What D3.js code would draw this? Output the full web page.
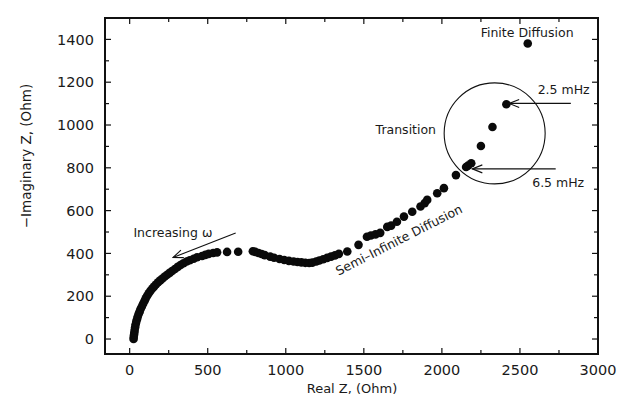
<!DOCTYPE html>
<html>
<head>
<meta charset="utf-8">
<script src="https://cdn.jsdelivr.net/npm/d3@7"></script>
<style>
  body { margin: 0; background: #fff; }
  svg text { font-family: "DejaVu Sans", sans-serif; fill: #1a1a1a; }
</style>
</head>
<body>
<svg id="chart" width="622" height="403"></svg>
<script>
// impedance data (Ohm)
var realZ = [25, 26, 28, 30, 32, 35, 38, 42, 47, 52, 58, 64, 70, 78, 86, 95, 103, 112, 122, 133,
  145, 156, 168, 182, 196, 210, 225, 240, 256, 272, 290, 308, 326, 345, 365, 385, 410, 432,
  464, 485, 506, 535, 560, 624, 695,
  789, 805, 825, 845, 865, 900, 925, 960, 990, 1020, 1050, 1075, 1100, 1125, 1150, 1170, 1195,
  1215, 1240, 1265, 1290, 1315, 1340, 1394, 1466, 1520, 1545, 1575, 1605, 1650, 1675, 1712,
  1757, 1810, 1863, 1890, 1906, 1970, 2013, 2090, 2155, 2167, 2188, 2250, 2324, 2413, 2550];
var imagZ = [0, 10, 20, 30, 42, 55, 68, 80, 92, 105, 118, 128, 140, 152, 165, 178, 190, 202, 214, 225,
  236, 245, 255, 265, 274, 283, 292, 300, 309, 318, 327, 337, 346, 354, 362, 368, 375, 382,
  388, 393, 398, 402, 405, 407, 408,
  410, 407, 402, 397, 392, 385, 380, 374, 369, 365, 362, 360, 358, 356, 355, 357, 362,
  367, 373, 379, 385, 391, 398, 409, 440, 478, 484, 489, 496, 524, 530, 548,
  572, 595, 619, 635, 650, 681, 705, 766, 804, 810, 821, 902, 991, 1097, 1381];

var xTicks = [0, 500, 1000, 1500, 2000, 2500, 3000];
var xMinor = [250, 750, 1250, 1750, 2250, 2750];
var yTicks = [0, 200, 400, 600, 800, 1000, 1200, 1400];
var yMinor = [100, 300, 500, 700, 900, 1100, 1300];

var xTitle = "Real Z, (Ohm)";
var yTitle = "\u2212Imaginary Z, (Ohm)";

var svg = d3.select("#chart");
var pLeft = 105, pRight = 598, pTop = 18, pBottom = 354;

const x = d3.scaleLinear().domain([-158, 3000]).range([pLeft, pRight]);
const y = d3.scaleLinear().domain([-70, 1500]).range([pBottom, pTop]);

// ticks on all four sides, pointing inward
function tickLines(vals, len, axis) {
  vals.forEach(function(v) {
    if (axis === "x") {
      svg.append("line").attr("x1", x(v)).attr("x2", x(v)).attr("y1", pBottom).attr("y2", pBottom - len)
        .attr("stroke", "#111").attr("stroke-width", 1.2);
      svg.append("line").attr("x1", x(v)).attr("x2", x(v)).attr("y1", pTop).attr("y2", pTop + len)
        .attr("stroke", "#111").attr("stroke-width", 1.2);
    } else {
      svg.append("line").attr("y1", y(v)).attr("y2", y(v)).attr("x1", pLeft).attr("x2", pLeft + len)
        .attr("stroke", "#111").attr("stroke-width", 1.2);
      svg.append("line").attr("y1", y(v)).attr("y2", y(v)).attr("x1", pRight).attr("x2", pRight - len)
        .attr("stroke", "#111").attr("stroke-width", 1.2);
    }
  });
}
tickLines(xTicks, 6, "x");
tickLines(xMinor, 4, "x");
tickLines(yTicks, 6, "y");
tickLines(yMinor, 4, "y");

// frame
svg.append("rect").attr("x", pLeft).attr("y", pTop).attr("width", pRight - pLeft).attr("height", pBottom - pTop)
  .attr("fill", "none").attr("stroke", "#111").attr("stroke-width", 2);

svg.selectAll(".xlab").data(xTicks).join("text").attr("class", "xlab")
  .attr("x", function(d) { return x(d); }).attr("y", 375)
  .attr("text-anchor", "middle").attr("font-size", 14.5).text(function(d) { return d; });

svg.selectAll(".ylab").data(yTicks).join("text").attr("class", "ylab")
  .attr("x", 94).attr("y", function(d) { return y(d); }).attr("dy", "0.36em")
  .attr("text-anchor", "end").attr("font-size", 14.5).text(function(d) { return d; });

svg.append("text").attr("x", 352).attr("y", 393).attr("text-anchor", "middle")
  .attr("font-size", 13).text(xTitle);
svg.append("text").attr("transform", "translate(31,156) rotate(-90)").attr("text-anchor", "middle")
  .attr("font-size", 13.5).text(yTitle);

// markers
var defs = svg.append("defs");
defs.append("marker").attr("id", "vhead").attr("viewBox", "0 -6 12 12")
  .attr("refX", 11).attr("refY", 0).attr("markerWidth", 12).attr("markerHeight", 12)
  .attr("markerUnits", "userSpaceOnUse").attr("orient", "auto")
  .append("path").attr("d", "M1,-4 L11,0 L1,4").attr("fill", "none").attr("stroke", "#111").attr("stroke-width", 1.1);

// data points
svg.selectAll(".pt").data(realZ).join("circle").attr("class", "pt")
  .attr("cx", function(d) { return x(d); })
  .attr("cy", function(d, i) { return y(imagZ[i]); })
  .attr("r", 4.3).attr("fill", "#0a0a0a");

// annotations
svg.append("circle").attr("cx", x(2338)).attr("cy", y(961)).attr("r", 50.5)
  .attr("fill", "none").attr("stroke", "#111").attr("stroke-width", 1.1);

function arrow(x0, y0, x1, y1) {
  svg.append("line").attr("x1", x(x0)).attr("y1", y(y0)).attr("x2", x(x1)).attr("y2", y(y1))
    .attr("stroke", "#111").attr("stroke-width", 1.1).attr("marker-end", "url(#vhead)");
}
arrow(2826, 1101, 2431, 1101);
arrow(2729, 795, 2195, 795);
arrow(679, 495, 278, 381);

function note(tx, ty, s, rot) {
  var t = svg.append("text").attr("font-size", 12.5).attr("text-anchor", "middle").attr("dy", "0.35em").text(s);
  if (rot) t.attr("transform", "translate(" + x(tx) + "," + y(ty) + ") rotate(" + rot + ")");
  else t.attr("x", x(tx)).attr("y", y(ty));
}
note(2546, 1431, "Finite Diffusion");
note(2780, 1163, "2.5 mHz");
note(2745, 729, "6.5 mHz");
note(1769, 980, "Transition");
note(277, 495, "Increasing \u03c9");
note(1725, 463, "Semi\u2013Infinite Diffusion", -27);
</script>
</body>
</html>
